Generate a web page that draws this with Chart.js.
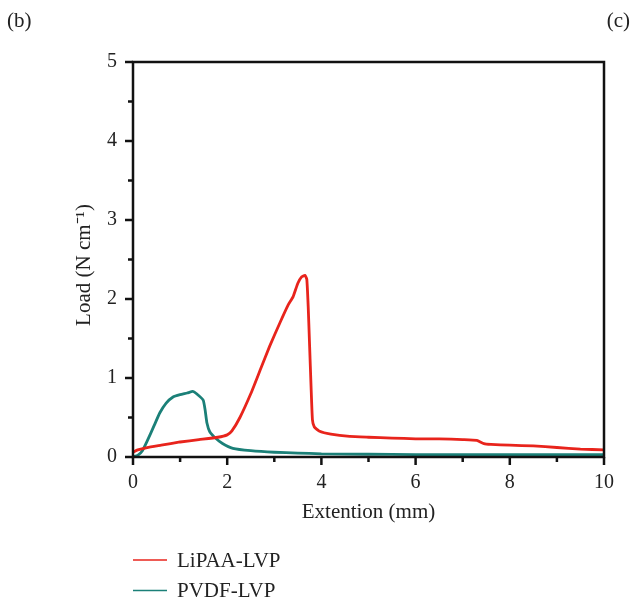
<!DOCTYPE html>
<html><head><meta charset="utf-8">
<script src="https://cdn.jsdelivr.net/npm/chart.js@4"></script>
<style>html,body{margin:0;padding:0;background:#fff}canvas{display:block}</style>
</head><body>
<canvas id="c" width="632" height="601"></canvas>
<script>
const seriesLabels = ["LiPAA-LVP", "PVDF-LVP"];
const xTitle = "Extention (mm)";
const yTitle = "Load (N cm\u207B\u00B9)";
const xTicks = [0, 2, 4, 6, 8, 10];
const yTicks = [0, 1, 2, 3, 4, 5];
const lipaaX = [0, 0.1, 0.3, 0.6, 1.0, 1.4, 1.8, 2.0, 2.1, 2.27, 2.5, 2.7, 2.9, 3.12, 3.29, 3.4, 3.5, 3.58, 3.65, 3.69, 3.72, 3.75, 3.78, 3.81, 3.85, 3.95, 4.2, 4.6, 5.0, 5.5, 6.0, 6.5, 7.0, 7.3, 7.45, 7.6, 8.0, 8.5, 9.0, 9.5, 10];
const lipaaY = [0.06, 0.09, 0.12, 0.15, 0.19, 0.22, 0.25, 0.28, 0.33, 0.5, 0.8, 1.1, 1.4, 1.7, 1.92, 2.03, 2.2, 2.28, 2.30, 2.25, 1.9, 1.4, 0.9, 0.47, 0.38, 0.33, 0.29, 0.26, 0.25, 0.24, 0.23, 0.23, 0.22, 0.21, 0.17, 0.16, 0.15, 0.14, 0.12, 0.10, 0.09];
const pvdfX = [0, 0.1, 0.2, 0.3, 0.45, 0.57, 0.7, 0.85, 1.0, 1.15, 1.27, 1.35, 1.49, 1.53, 1.57, 1.63, 1.75, 1.9, 2.12, 2.5, 3.0, 3.5, 4.0, 5.0, 6.0, 7.0, 8.0, 9.0, 10];
const pvdfY = [0.0, 0.02, 0.08, 0.2, 0.4, 0.56, 0.68, 0.76, 0.79, 0.81, 0.83, 0.80, 0.72, 0.6, 0.43, 0.32, 0.24, 0.17, 0.11, 0.08, 0.06, 0.05, 0.04, 0.035, 0.03, 0.03, 0.03, 0.03, 0.03];
const colors = ["#e8241c", "#1b8078"];

const FONT = "'Liberation Serif', 'Times New Roman', serif";
const toPts = (xs, ys) => xs.map((x, i) => ({x: x, y: ys[i]}));

const framePlugin = {
  id: 'frame',
  afterDatasetsDraw(chart) {
    const {ctx, chartArea: a, scales} = chart;
    ctx.save();
    ctx.strokeStyle = '#111';
    ctx.lineWidth = 2.5;
    ctx.strokeRect(a.left, a.top, a.right - a.left, a.bottom - a.top);
    for (let v = 0; v <= 5.0001; v += 0.5) {
      const py = scales.y.getPixelForValue(v);
      const major = Math.abs(v - Math.round(v)) < 1e-6;
      ctx.beginPath();
      ctx.moveTo(a.left, py);
      ctx.lineTo(a.left - (major ? 8 : 5), py);
      ctx.stroke();
    }
    for (let v = 0; v <= 10.0001; v += 1) {
      const px = scales.x.getPixelForValue(v);
      const major = v % 2 === 0;
      ctx.beginPath();
      ctx.moveTo(px, a.bottom);
      ctx.lineTo(px, a.bottom + (major ? 8 : 5));
      ctx.stroke();
    }
    ctx.restore();
  },
  afterDraw(chart) {
    const {ctx, chartArea: a} = chart;
    ctx.save();
    ctx.fillStyle = '#222';
    ctx.textBaseline = 'middle';
    ctx.font = '21px ' + FONT;
    ctx.textAlign = 'left';
    ctx.fillText('(b)', 7, 21);
    ctx.textAlign = 'right';
    ctx.fillText('(c)', 630, 21);
    ctx.font = '21px ' + FONT;
    ctx.textAlign = 'center';
    ctx.fillText(xTitle, (a.left + a.right) / 2, 512);
    ctx.save();
    ctx.translate(84, 265);
    ctx.rotate(-Math.PI / 2);
    ctx.fillText(yTitle, 0, 0);
    ctx.restore();
    ctx.textAlign = 'left';
    ctx.font = '21px ' + FONT;
    chart.data.datasets.forEach((ds, i) => {
      const y = 560 + i * 30.5;
      ctx.strokeStyle = ds.borderColor;
      ctx.lineWidth = 1.5;
      ctx.beginPath();
      ctx.moveTo(133, y);
      ctx.lineTo(167, y);
      ctx.stroke();
      ctx.fillStyle = '#222';
      ctx.fillText(ds.label, 177, y + 1);
    });
    ctx.restore();
  }
};

new Chart(document.getElementById('c'), {
  type: 'scatter',
  data: {
    datasets: [
      {label: seriesLabels[0], data: toPts(lipaaX, lipaaY), showLine: true, borderColor: colors[0], backgroundColor: colors[0], borderWidth: 2.8, pointRadius: 0, tension: 0.15},
      {label: seriesLabels[1], data: toPts(pvdfX, pvdfY), showLine: true, borderColor: colors[1], backgroundColor: colors[1], borderWidth: 2.8, pointRadius: 0, tension: 0.15}
    ]
  },
  options: {
    responsive: false,
    animation: false,
    devicePixelRatio: 1,
    layout: {padding: {left: 0, top: 62, right: 28, bottom: 70}},
    plugins: {legend: {display: false}, tooltip: {enabled: false}},
    scales: {
      x: {
        type: 'linear', min: 0, max: 10,
        afterBuildTicks: s => { s.ticks = xTicks.map(v => ({value: v})); },
        grid: {display: false},
        border: {display: false},
        ticks: {padding: 6, color: '#222', font: {family: FONT, size: 20}, maxRotation: 0},
        title: {display: false},
        afterFit: s => { s.height = 74; }
      },
      y: {
        type: 'linear', min: 0, max: 5,
        afterBuildTicks: s => { s.ticks = yTicks.map(v => ({value: v})); },
        grid: {display: false},
        border: {display: false},
        ticks: {padding: 8, color: '#222', font: {family: FONT, size: 20}},
        title: {display: false},
        afterFit: s => { s.width = 133; }
      }
    }
  },
  plugins: [framePlugin]
});
</script>
</body></html>
